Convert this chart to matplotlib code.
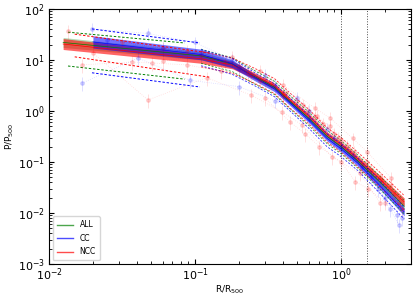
import matplotlib
matplotlib.use("Agg")
import matplotlib.pyplot as plt
import numpy as np

# --- median profiles (piecewise power law nodes)
r_all = [0.0125, 0.11, 0.18, 0.26, 0.35, 0.45, 0.6, 0.8, 1.0, 1.3, 1.85, 2.7]
p_all = [22.0, 12.0, 8.3, 4.6, 2.9, 1.5, 0.72, 0.32, 0.2, 0.105, 0.04, 0.0135]
r_cc = [0.02, 0.11, 0.18, 0.26, 0.35, 0.45, 0.6, 0.8, 1.0, 1.3, 1.85, 2.7]
p_cc = [22.5, 12.8, 8.4, 4.4, 2.7, 1.4, 0.66, 0.29, 0.18, 0.095, 0.034, 0.0105]
r_ncc = [0.0125, 0.11, 0.18, 0.26, 0.35, 0.45, 0.6, 0.8, 1.0, 1.3, 1.85, 2.7]
p_ncc = [20.5, 10.5, 7.9, 4.8, 3.1, 1.6, 0.8, 0.35, 0.22, 0.115, 0.046, 0.0165]

# band half-widths (multiplicative) at the nodes
w_all = [1.25, 1.2, 1.16, 1.12, 1.11, 1.1, 1.1, 1.1, 1.1, 1.12, 1.15, 1.18]
w_cc = [1.32, 1.27, 1.2, 1.15, 1.13, 1.12, 1.12, 1.12, 1.13, 1.15, 1.17, 1.2]
w_ncc = [1.28, 1.22, 1.18, 1.14, 1.13, 1.12, 1.12, 1.12, 1.13, 1.14, 1.17, 1.2]

# intrinsic scatter (dashed), inner bin
core_r_all = [0.0135, 0.085]
core_up_all = [35.0, 21.5]
core_lo_all = [7.6, 4.2]
core_r_cc = [0.0197, 0.108]
core_up_cc = [40.5, 21.5]
core_lo_cc = [5.6, 2.95]
core_r_ncc = [0.015, 0.125]
core_up_ncc = [32.0, 13.7]
core_lo_ncc = [11.5, 4.6]

# intrinsic scatter (dashed), outer bins
r_out = [0.11, 0.18, 0.26, 0.35, 0.45, 0.6, 0.8, 1.0, 1.3, 1.85, 2.7]
up_all = [16.2, 11.0, 6.0, 3.8, 1.95, 0.95, 0.42, 0.26, 0.137, 0.052, 0.0176]
lo_all = [8.6, 5.9, 3.3, 2.1, 1.08, 0.52, 0.23, 0.145, 0.076, 0.029, 0.0097]
up_cc = [16.0, 10.6, 5.5, 3.4, 1.75, 0.83, 0.36, 0.23, 0.12, 0.043, 0.013]
lo_cc = [7.7, 5.2, 3.05, 1.9, 0.98, 0.46, 0.2, 0.127, 0.068, 0.024, 0.0076]
up_ncc = [14.7, 10.9, 6.7, 4.3, 2.2, 1.08, 0.47, 0.3, 0.155, 0.062, 0.022]
lo_ncc = [7.3, 5.5, 3.4, 2.2, 1.12, 0.56, 0.245, 0.155, 0.08, 0.032, 0.0115]

# individual cluster profiles (faint points)
ncc_prof_r = [
    [0.0135, 0.0316, 0.06, 0.088, 0.179, 0.24, 0.4, 0.66, 1.0, 1.5, 2.2],
    [0.0168, 0.037, 0.051, 0.088, 0.15, 0.278, 0.40, 0.59, 0.84, 1.22, 1.85, 2.5],
    [0.02, 0.0476, 0.12, 0.241, 0.394, 0.54, 0.87, 1.34, 1.85],
    [0.06, 0.11, 0.278, 0.40, 0.66, 0.84, 1.2, 1.5, 2.2],
    [0.3, 0.45, 0.57, 0.71, 1.0, 1.25, 1.53, 2.0],
    [0.13, 0.2, 0.3, 0.42, 0.55, 0.75, 0.95, 1.15, 1.6, 2.3],
    [0.16, 0.23, 0.33, 0.5, 0.68, 0.9, 1.1, 1.4, 1.9, 2.6],
]
ncc_prof_p = [
    [37, 22, 17, 15, 11.5, 5.0, 2.2, 0.75, 0.27, 0.1, 0.035],
    [8, 9.1, 8.7, 8.0, 6.0, 3.8, 2.0, 1.0, 0.5, 0.16, 0.05, 0.016],
    [13.7, 1.64, 4.5, 2.05, 0.96, 0.53, 0.125, 0.06, 0.0159],
    [9.5, 12, 6.1, 3.2, 1.14, 0.73, 0.29, 0.16, 0.048],
    [1.8, 0.6, 0.35, 0.2, 0.1, 0.041, 0.03, 0.016],
    [10, 7.5, 4.2, 2.3, 1.3, 0.55, 0.3, 0.17, 0.07, 0.024],
    [9.0, 5.5, 3.6, 1.6, 0.8, 0.36, 0.21, 0.09, 0.045, 0.012],
]
cc_prof_r = [
    [0.0168, 0.0407, 0.092, 0.2, 0.35, 0.6, 1.0, 1.6, 2.15, 2.5],
    [0.0197, 0.0476, 0.1, 0.18, 0.3, 0.5, 0.8, 1.2, 1.8, 2.4],
    [0.025, 0.06, 0.11, 0.2, 0.35, 0.6, 0.9, 1.4, 2.0, 2.6],
]
cc_prof_p = [
    [3.5, 10.9, 4.0, 3.0, 1.6, 0.7, 0.2, 0.05, 0.012, 0.0058],
    [40.5, 33, 22, 10, 5, 1.8, 0.45, 0.13, 0.03, 0.009],
    [25, 17, 13, 7, 3.2, 1.0, 0.3, 0.08, 0.02, 0.008],
]
prof_err = 0.3

fig = plt.figure(figsize=(4.15, 2.97), dpi=100)
ax = fig.add_axes([0.118, 0.111, 0.872, 0.859])

for rr, pp in zip(ncc_prof_r, ncc_prof_p):
    pp = np.array(pp)
    ax.errorbar(rr, pp, yerr=prof_err * pp, fmt='o:', color='r', alpha=0.15,
                ms=2.5, lw=0.6, elinewidth=0.6)
for rr, pp in zip(cc_prof_r, cc_prof_p):
    pp = np.array(pp)
    ax.errorbar(rr, pp, yerr=prof_err * pp, fmt='o:', color='b', alpha=0.15,
                ms=2.5, lw=0.6, elinewidth=0.6)


def draw_sample(r, p, w, core_r, core_up, core_lo, up, lo, color, label, alpha):
    r = np.array(r)
    p = np.array(p)
    w = np.array(w)
    ax.fill_between(r, p / w, p * w, color=color, alpha=alpha, lw=0)
    ax.plot(r, p, color=color, lw=0.5)
    ax.plot(core_r, core_up, '--', color=color, lw=0.7, dashes=(2.5, 1.8))
    ax.plot(core_r, core_lo, '--', color=color, lw=0.7, dashes=(2.5, 1.8))
    ax.plot(r_out, up, '--', color=color, lw=0.6, dashes=(2.5, 1.8), alpha=0.8)
    ax.plot(r_out, lo, '--', color=color, lw=0.6, dashes=(2.5, 1.8), alpha=0.8)
    ax.plot([], [], color=color, lw=1.0, alpha=0.7, label=label)


draw_sample(r_all, p_all, w_all, core_r_all, core_up_all, core_lo_all,
            up_all, lo_all, 'green', 'ALL', 0.3)
draw_sample(r_ncc, p_ncc, w_ncc, core_r_ncc, core_up_ncc, core_lo_ncc,
            up_ncc, lo_ncc, 'red', 'NCC', 0.6)
draw_sample(r_cc, p_cc, w_cc, core_r_cc, core_up_cc, core_lo_cc,
            up_cc, lo_cc, 'blue', 'CC', 0.55)

ax.axvline(1.0, color='k', ls=':', lw=0.7, alpha=0.7)
ax.axvline(1.5, color='k', ls=':', lw=0.7, alpha=0.7)

ax.set_xscale('log')
ax.set_yscale('log')
ax.set_xlim(0.01, 3.0)
ax.set_ylim(1e-3, 1e2)
ax.tick_params(which='both', direction='in', top=True, right=True, labelsize=8)
ax.tick_params(axis='x', pad=2)
ax.tick_params(axis='y', pad=3)
ax.tick_params(which='major', length=3.5)
ax.tick_params(which='minor', length=2)
ax.set_xlabel(r'R/R$_{500}$', fontsize=6.5, labelpad=0)
ax.set_ylabel(r'P/P$_{500}$', fontsize=6.5, labelpad=1)

h, l = ax.get_legend_handles_labels()
order = [l.index('ALL'), l.index('CC'), l.index('NCC')]
ax.legend([h[i] for i in order], [l[i] for i in order], loc='lower left',
          fontsize=5.5, handlelength=2.2, borderpad=0.5, labelspacing=0.6)

fig.savefig('out.png', dpi=100)
